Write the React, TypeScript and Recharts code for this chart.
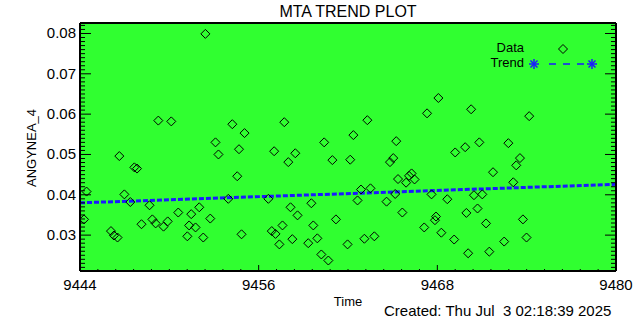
import React from 'react';
import { ComposedChart, Scatter, Line, XAxis, YAxis, CartesianGrid } from 'recharts';

const times = [
  9444.27, 9444.44, 9446.08, 9446.28, 9446.52, 9446.64, 9446.98, 9447.38, 9447.65, 9447.83,
  9448.13, 9448.67, 9448.86, 9449.08, 9449.26, 9449.61, 9449.89, 9450.13, 9450.6, 9451.21,
  9451.33, 9451.47, 9451.76, 9452.01, 9452.28, 9452.42, 9452.75, 9453.1, 9453.3, 9453.96,
  9454.23, 9454.56, 9454.68, 9454.85, 9455.05, 9456.65, 9456.88, 9457.04, 9457.13, 9457.39,
  9457.6, 9457.72, 9457.99, 9458.14, 9458.26, 9458.46, 9458.61, 9459.33, 9459.54, 9459.67,
  9459.94, 9460.21, 9460.4, 9460.68, 9460.95, 9461.19, 9461.97, 9462.15, 9462.36, 9462.64,
  9462.87, 9463.1, 9463.3, 9463.51, 9463.77, 9464.59, 9464.82, 9465.04, 9465.17, 9465.24,
  9465.36, 9465.65, 9465.9, 9466.1, 9466.27, 9466.47, 9467.12, 9467.31, 9467.61, 9467.91,
  9467.84, 9468.07, 9468.27, 9468.67, 9469.13, 9469.2, 9469.87, 9469.95, 9470.07, 9470.27,
  9470.46, 9470.7, 9470.82, 9471.02, 9471.27, 9471.49, 9471.74, 9472.49, 9472.77, 9473.1,
  9473.3, 9473.55, 9473.75, 9473.99, 9474.17,
];
const values = [
  0.0339, 0.0408, 0.031, 0.0299, 0.0294, 0.0496, 0.0401, 0.0382, 0.0468, 0.0465,
  0.0327, 0.0374, 0.0339, 0.0329, 0.0584, 0.0321, 0.0334, 0.0582, 0.0356, 0.0297,
  0.0324, 0.0352, 0.0319, 0.0369, 0.0294, 0.0799, 0.0341, 0.053, 0.05, 0.039,
  0.0575, 0.0446, 0.0513, 0.0302, 0.0553, 0.039, 0.031, 0.0508, 0.0303, 0.0277,
  0.0324, 0.058, 0.0481, 0.0369, 0.029, 0.0503, 0.0349, 0.028, 0.0379, 0.0324,
  0.0292, 0.0252, 0.053, 0.0237, 0.0486, 0.0339, 0.0277, 0.0487, 0.0548, 0.0386,
  0.0413, 0.0291, 0.0585, 0.0416, 0.0297, 0.0383, 0.0481, 0.0491, 0.0402, 0.0533,
  0.0439, 0.0356, 0.043, 0.0447, 0.0453, 0.0438, 0.0319, 0.0602, 0.0401, 0.0346,
  0.0337, 0.064, 0.0306, 0.0389, 0.0289, 0.0505, 0.0518, 0.0355, 0.0255, 0.0612,
  0.0399, 0.0366, 0.053, 0.0401, 0.0329, 0.0259, 0.0456, 0.0284, 0.0528, 0.0431,
  0.0473, 0.0491, 0.0339, 0.0294, 0.0595,
];

// Linear trend end points
const trendTimes = [9444, 9480];
const trendValues = [0.038, 0.0426];

const xDomain = [9444, 9480];
const yDomain = [0.0211, 0.0826];
const xMajor = [9444, 9456, 9468, 9480];
const yMajor = [0.03, 0.04, 0.05, 0.06, 0.07, 0.08];

const points = times.map((t, i) => ({ x: t, y: values[i] }));
const trend = trendTimes.map((t, i) => ({ x: t, y: trendValues[i] }));

// minor ticks: 1.2 days on x, 0.001 on y
const xTicks = Array.from({ length: 31 }, (_, i) => +(9444 + i * 1.2).toFixed(1));
const yTicks = Array.from({ length: 61 }, (_, i) => +(0.022 + i * 0.001).toFixed(3));

const FONT = '"Liberation Sans", Arial, sans-serif';
const GREEN = '#30ff30';
const BLUE = '#1a1aff';

const isMajor = (v: number, majors: number[]) => majors.some((m) => Math.abs(m - v) < 1e-6);

const BottomTick = (props: any) => {
  const { x, y, payload } = props;
  const major = isMajor(payload.value, xMajor);
  return (
    <g>
      <line x1={x} x2={x} y1={y} y2={y - (major ? 6 : 2)} stroke="#000" />
      {major && (
        <text x={x} y={y + 19} textAnchor="middle" fontSize={15} fontFamily={FONT} fill="#000">
          {payload.value}
        </text>
      )}
    </g>
  );
};

const TopTick = (props: any) => {
  const { x, y, payload } = props;
  const major = isMajor(payload.value, xMajor);
  return <line x1={x} x2={x} y1={y} y2={y + (major ? 5 : 2)} stroke="#000" />;
};

const LeftTick = (props: any) => {
  const { x, y, payload } = props;
  const major = isMajor(payload.value, yMajor);
  return (
    <g>
      <line x1={x} x2={x + (major ? 11 : 5)} y1={y} y2={y} stroke="#000" />
      {major && (
        <text x={x - 4} y={y + 5} textAnchor="end" fontSize={15} fontFamily={FONT} fill="#000">
          {payload.value.toFixed(2)}
        </text>
      )}
    </g>
  );
};

const RightTick = (props: any) => {
  const { x, y, payload } = props;
  const major = isMajor(payload.value, yMajor);
  return <line x1={x} x2={x - (major ? 11 : 5)} y1={y} y2={y} stroke="#000" />;
};

const Diamond = (props: any) => {
  const { cx, cy } = props;
  const r = 4.5;
  return (
    <polygon
      points={`${cx},${cy - r} ${cx + r},${cy} ${cx},${cy + r} ${cx - r},${cy}`}
      fill="none"
      stroke="#000"
      strokeWidth={1}
    />
  );
};

const Star = ({ x, y }: { x: number; y: number }) => (
  <g stroke={BLUE} strokeWidth={1.5}>
    <line x1={x - 5} x2={x + 5} y1={y} y2={y} />
    <line x1={x} x2={x} y1={y - 5} y2={y + 5} />
    <line x1={x - 3.5} x2={x + 3.5} y1={y - 3.5} y2={y + 3.5} />
    <line x1={x - 3.5} x2={x + 3.5} y1={y + 3.5} y2={y - 3.5} />
  </g>
);

const axisLine = { stroke: '#000', strokeWidth: 2 };

export default function App() {
  return (
    <div style={{ position: 'absolute', left: 0, top: 0, width: 640, height: 320, background: '#fff' }}>
      <ComposedChart width={640} height={320} margin={{ top: 22, right: 23, bottom: 48, left: 79 }}>
        <CartesianGrid horizontal={false} vertical={false} fill={GREEN} fillOpacity={1} stroke="none" />
        <XAxis
          dataKey="x"
          type="number"
          domain={xDomain}
          ticks={xTicks}
          interval={0}
          allowDataOverflow
          height={1}
          tickSize={0}
          tickMargin={0}
          tickLine={false}
          axisLine={axisLine}
          tick={BottomTick}
        />
        <XAxis
          xAxisId="top"
          orientation="top"
          type="number"
          domain={xDomain}
          ticks={xTicks}
          interval={0}
          allowDataOverflow
          height={1}
          tickSize={0}
          tickMargin={0}
          tickLine={false}
          axisLine={axisLine}
          tick={TopTick}
        />
        <YAxis
          type="number"
          domain={yDomain}
          ticks={yTicks}
          interval={0}
          allowDataOverflow
          width={1}
          tickSize={0}
          tickMargin={0}
          tickLine={false}
          axisLine={axisLine}
          tick={LeftTick}
        />
        <YAxis
          yAxisId="right"
          orientation="right"
          type="number"
          domain={yDomain}
          ticks={yTicks}
          interval={0}
          allowDataOverflow
          width={1}
          tickSize={0}
          tickMargin={0}
          tickLine={false}
          axisLine={axisLine}
          tick={RightTick}
        />
        <Line
          data={trend}
          dataKey="y"
          stroke={BLUE}
          strokeWidth={3}
          strokeDasharray="5 2"
          dot={false}
          isAnimationActive={false}
        />
        <Scatter data={points} dataKey="y" shape={Diamond} isAnimationActive={false} />
      </ComposedChart>

      <svg
        width={640}
        height={320}
        style={{ position: 'absolute', left: 0, top: 0, pointerEvents: 'none' }}
        fontFamily={FONT}
      >
        <text x={348} y={17} textAnchor="middle" fontSize={16} fill="#000">
          MTA TREND PLOT
        </text>
        <text x={348} y={306} textAnchor="middle" fontSize={13} fill="#000">
          Time
        </text>
        <text
          x={0}
          y={0}
          transform="translate(36,148) rotate(-90)"
          textAnchor="middle"
          fontSize={13}
          fill="#000"
        >
          ANGYNEA_4
        </text>
        <text x={384} y={316} fontSize={15} fill="#000" style={{ whiteSpace: 'pre' }}>
          {'Created: Thu Jul  3 02:18:39 2025'}
        </text>

        {/* legend */}
        <text x={524} y={52} textAnchor="end" fontSize={13} fill="#000">
          Data
        </text>
        <text x={524} y={67} textAnchor="end" fontSize={13} fill="#000">
          Trend
        </text>
        <polygon points="563,44.5 567.5,49 563,53.5 558.5,49" fill="none" stroke="#000" />
        <Star x={534} y={64} />
        <line x1={549} x2={586} y1={64} y2={64} stroke={BLUE} strokeWidth={1.5} strokeDasharray="7 7" />
        <Star x={592} y={64} />
      </svg>
    </div>
  );
}
